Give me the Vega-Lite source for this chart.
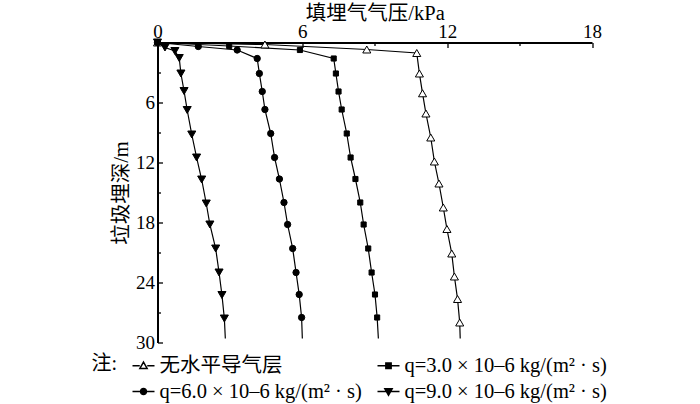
{
  "$schema": "https://vega.github.io/schema/vega-lite/v6.json",
  "width": 434.5,
  "height": 300,
  "autosize": "none",
  "padding": {"left": 157.5, "top": 42.5, "right": 108, "bottom": 61.5},
  "config": {
    "view": {"stroke": null},
    "font": "Liberation Serif",
    "axis": {
      "domainColor": "black", "domainWidth": 2, "tickColor": "black", "tickWidth": 1.3,
      "labelColor": "black", "labelFont": "Liberation Serif", "labelFontSize": 19,
      "titleColor": "black", "titleFont": "Liberation Serif, Noto Sans CJK SC", "titleFontSize": 20.5, "titleFontWeight": "normal",
      "grid": false, "labelOverlap": false, "labelFlush": false
    }
  },
  "data": {"values": [
    {"s": "无水平导气层", "p": 0, "d": 0},
    {"s": "无水平导气层", "p": 4.45, "d": 0.2},
    {"s": "无水平导气层", "p": 8.67, "d": 0.7},
    {"s": "无水平导气层", "p": 10.74, "d": 1.05},
    {"s": "无水平导气层", "p": 10.85, "d": 3.1},
    {"s": "无水平导气层", "p": 10.98, "d": 5.08},
    {"s": "无水平导气层", "p": 11.12, "d": 7.1},
    {"s": "无水平导气层", "p": 11.32, "d": 9.5},
    {"s": "无水平导气层", "p": 11.47, "d": 11.9},
    {"s": "无水平导气层", "p": 11.66, "d": 14.1},
    {"s": "无水平导气层", "p": 11.84, "d": 16.5},
    {"s": "无水平导气层", "p": 11.99, "d": 18.65},
    {"s": "无水平导气层", "p": 12.19, "d": 21.1},
    {"s": "无水平导气层", "p": 12.3, "d": 23.4},
    {"s": "无水平导气层", "p": 12.43, "d": 25.65},
    {"s": "无水平导气层", "p": 12.52, "d": 28.0},
    {"s": "无水平导气层", "p": 12.54, "d": 29.6},
    {"s": "q=3.0 × 10–6 kg/(m² · s)", "p": 0, "d": 0},
    {"s": "q=3.0 × 10–6 kg/(m² · s)", "p": 2.97, "d": 0.35},
    {"s": "q=3.0 × 10–6 kg/(m² · s)", "p": 5.9, "d": 0.75},
    {"s": "q=3.0 × 10–6 kg/(m² · s)", "p": 7.3, "d": 1.6},
    {"s": "q=3.0 × 10–6 kg/(m² · s)", "p": 7.39, "d": 3.1},
    {"s": "q=3.0 × 10–6 kg/(m² · s)", "p": 7.5, "d": 4.9},
    {"s": "q=3.0 × 10–6 kg/(m² · s)", "p": 7.63, "d": 6.7},
    {"s": "q=3.0 × 10–6 kg/(m² · s)", "p": 7.84, "d": 9.1},
    {"s": "q=3.0 × 10–6 kg/(m² · s)", "p": 8.0, "d": 11.5},
    {"s": "q=3.0 × 10–6 kg/(m² · s)", "p": 8.2, "d": 13.65},
    {"s": "q=3.0 × 10–6 kg/(m² · s)", "p": 8.4, "d": 16.0},
    {"s": "q=3.0 × 10–6 kg/(m² · s)", "p": 8.54, "d": 18.2},
    {"s": "q=3.0 × 10–6 kg/(m² · s)", "p": 8.73, "d": 20.6},
    {"s": "q=3.0 × 10–6 kg/(m² · s)", "p": 8.87, "d": 23.0},
    {"s": "q=3.0 × 10–6 kg/(m² · s)", "p": 9.01, "d": 25.2},
    {"s": "q=3.0 × 10–6 kg/(m² · s)", "p": 9.1, "d": 27.5},
    {"s": "q=3.0 × 10–6 kg/(m² · s)", "p": 9.15, "d": 29.6},
    {"s": "q=6.0 × 10–6 kg/(m² · s)", "p": 0, "d": 0},
    {"s": "q=6.0 × 10–6 kg/(m² · s)", "p": 1.69, "d": 0.4},
    {"s": "q=6.0 × 10–6 kg/(m² · s)", "p": 3.3, "d": 0.75},
    {"s": "q=6.0 × 10–6 kg/(m² · s)", "p": 4.13, "d": 1.6},
    {"s": "q=6.0 × 10–6 kg/(m² · s)", "p": 4.22, "d": 3.1},
    {"s": "q=6.0 × 10–6 kg/(m² · s)", "p": 4.34, "d": 4.9},
    {"s": "q=6.0 × 10–6 kg/(m² · s)", "p": 4.45, "d": 6.7},
    {"s": "q=6.0 × 10–6 kg/(m² · s)", "p": 4.69, "d": 9.1},
    {"s": "q=6.0 × 10–6 kg/(m² · s)", "p": 4.85, "d": 11.5},
    {"s": "q=6.0 × 10–6 kg/(m² · s)", "p": 5.05, "d": 13.65},
    {"s": "q=6.0 × 10–6 kg/(m² · s)", "p": 5.24, "d": 16.0},
    {"s": "q=6.0 × 10–6 kg/(m² · s)", "p": 5.39, "d": 18.2},
    {"s": "q=6.0 × 10–6 kg/(m² · s)", "p": 5.6, "d": 20.6},
    {"s": "q=6.0 × 10–6 kg/(m² · s)", "p": 5.74, "d": 23.0},
    {"s": "q=6.0 × 10–6 kg/(m² · s)", "p": 5.87, "d": 25.2},
    {"s": "q=6.0 × 10–6 kg/(m² · s)", "p": 5.97, "d": 27.5},
    {"s": "q=6.0 × 10–6 kg/(m² · s)", "p": 6.0, "d": 29.6},
    {"s": "q=9.0 × 10–6 kg/(m² · s)", "p": 0, "d": 0},
    {"s": "q=9.0 × 10–6 kg/(m² · s)", "p": 0.31, "d": 0.5},
    {"s": "q=9.0 × 10–6 kg/(m² · s)", "p": 0.72, "d": 0.85},
    {"s": "q=9.0 × 10–6 kg/(m² · s)", "p": 0.9, "d": 1.55},
    {"s": "q=9.0 × 10–6 kg/(m² · s)", "p": 0.97, "d": 3.1},
    {"s": "q=9.0 × 10–6 kg/(m² · s)", "p": 1.1, "d": 4.85},
    {"s": "q=9.0 × 10–6 kg/(m² · s)", "p": 1.23, "d": 6.75},
    {"s": "q=9.0 × 10–6 kg/(m² · s)", "p": 1.42, "d": 9.2},
    {"s": "q=9.0 × 10–6 kg/(m² · s)", "p": 1.62, "d": 11.5},
    {"s": "q=9.0 × 10–6 kg/(m² · s)", "p": 1.83, "d": 13.7},
    {"s": "q=9.0 × 10–6 kg/(m² · s)", "p": 2.02, "d": 16.1},
    {"s": "q=9.0 × 10–6 kg/(m² · s)", "p": 2.17, "d": 18.2},
    {"s": "q=9.0 × 10–6 kg/(m² · s)", "p": 2.41, "d": 20.6},
    {"s": "q=9.0 × 10–6 kg/(m² · s)", "p": 2.55, "d": 23.0},
    {"s": "q=9.0 × 10–6 kg/(m² · s)", "p": 2.67, "d": 25.25},
    {"s": "q=9.0 × 10–6 kg/(m² · s)", "p": 2.77, "d": 27.6},
    {"s": "q=9.0 × 10–6 kg/(m² · s)", "p": 2.81, "d": 29.6}
  ]},
  "encoding": {
    "x": {
      "field": "p", "type": "quantitative",
      "scale": {"domain": [0, 18], "nice": false, "zero": false},
      "axis": {
        "orient": "top", "title": "填埋气气压/kPa",
        "values": [0, 3, 6, 9, 12, 15, 18],
        "labelExpr": "datum.value % 6 === 0 ? datum.label : ''",
        "tickSize": {"condition": {"test": "datum.value % 6 === 0", "value": -5}, "value": -3},
        "labelPadding": 6, "titlePadding": -3
      }
    },
    "y": {
      "field": "d", "type": "quantitative",
      "scale": {"domain": [0, 30], "reverse": true, "nice": false, "zero": false},
      "axis": {
        "title": "垃圾埋深/m",
        "values": [0, 3, 6, 9, 12, 15, 18, 21, 24, 27, 30],
        "labelExpr": "datum.value % 6 === 0 && datum.value > 0 ? datum.label : ''",
        "tickSize": {"condition": {"test": "datum.value % 6 === 0", "value": -5}, "value": -3},
        "labelPadding": 8, "titlePadding": 4
      }
    }
  },
  "layer": [
    {
      "mark": {"type": "line", "color": "black", "strokeWidth": 1.2},
      "encoding": {
        "detail": {"field": "s", "type": "nominal"},
        "order": {"field": "d", "type": "quantitative"}
      }
    },
    {
      "transform": [{"filter": "datum.d < 29"}],
      "mark": {"type": "point", "filled": true, "stroke": "black", "strokeWidth": 1, "opacity": 1},
      "encoding": {
        "shape": {
          "condition": [
            {"test": "datum.s === '无水平导气层'", "value": "triangle-up"},
            {"test": "datum.s === 'q=3.0 × 10–6 kg/(m² · s)'", "value": "square"},
            {"test": "datum.s === 'q=6.0 × 10–6 kg/(m² · s)'", "value": "circle"}
          ],
          "value": "triangle-down"
        },
        "fill": {
          "condition": {"test": "datum.s === '无水平导气层'", "value": "white"},
          "value": "black"
        },
        "size": {
          "condition": [
            {"test": "datum.s === '无水平导气层' || datum.s === 'q=9.0 × 10–6 kg/(m² · s)'", "value": 65},
            {"test": "datum.s === 'q=6.0 × 10–6 kg/(m² · s)'", "value": 40}
          ],
          "value": 26
        }
      }
    },
    {
      "transform": [{"filter": "datum.d > 100"}],
      "mark": {"type": "point", "filled": true, "stroke": "black", "strokeWidth": 1, "opacity": 1, "size": 484},
      "encoding": {
        "shape": {
          "field": "s", "type": "nominal",
          "scale": {
            "domain": ["无水平导气层", "q=3.0 × 10–6 kg/(m² · s)", "q=6.0 × 10–6 kg/(m² · s)", "q=9.0 × 10–6 kg/(m² · s)"],
            "range": [
              "M-1,0H-0.34M0.34,0H1M0,-0.33L0.33,0.25L-0.33,0.25Z",
              "M-1,0H1M-0.24,-0.24H0.24V0.24H-0.24Z",
              "M-1,0H1M0.27,0A0.27,0.27,0,1,1,-0.27,0A0.27,0.27,0,1,1,0.27,0Z",
              "M-1,0H1M-0.33,-0.25L0.33,-0.25L0,0.33Z"
            ]
          },
          "legend": {
            "orient": "none", "legendX": -66, "legendY": 311,
            "direction": "horizontal", "columns": 2, "columnPadding": 12, "rowPadding": 3,
            "title": "注:", "titleOrient": "left", "titleAnchor": "start", "titleFont": "Liberation Serif, Noto Sans CJK SC",
            "titleFontSize": 20, "titleFontWeight": "normal", "titleColor": "black", "titlePadding": 14,
            "labelFont": "Liberation Serif, Noto Sans CJK SC", "labelFontSize": 20.5, "labelColor": "black",
            "labelLimit": 400, "labelOffset": 4, "symbolSize": 484,
            "encode": {"symbols": {
              "size": {"value": 484},
              "stroke": {"value": "black"},
              "strokeWidth": {"value": 1},
              "opacity": {"value": 1}
            }}
          }
        },
        "fill": {
          "field": "s", "type": "nominal",
          "scale": {
            "domain": ["无水平导气层", "q=3.0 × 10–6 kg/(m² · s)", "q=6.0 × 10–6 kg/(m² · s)", "q=9.0 × 10–6 kg/(m² · s)"],
            "range": ["white", "black", "black", "black"]
          }
        }
      }
    }
  ]
}
